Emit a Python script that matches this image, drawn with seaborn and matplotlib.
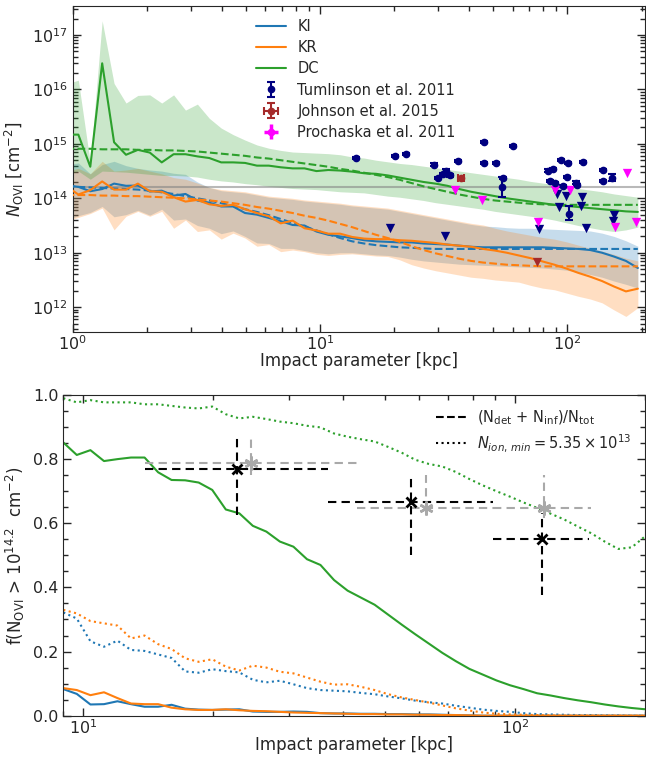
import numpy as np
import matplotlib
matplotlib.use("Agg")
import matplotlib.pyplot as plt
import seaborn as sns
from matplotlib.lines import Line2D
from matplotlib.ticker import MultipleLocator

sns.set_style("ticks", {"xtick.direction": "in", "ytick.direction": "in"})
plt.rcParams["font.family"] = ["DejaVu Sans"]
plt.rcParams["mathtext.fontset"] = "dejavusans"

# ---------------- column-density profiles (log10 N_OVI) ----------------
b_top = [0.944, 1.054, 1.178, 1.316, 1.470, 1.643, 1.835, 2.050, 2.291, 2.559,
         2.858, 3.193, 3.567, 3.985, 4.452, 4.974, 5.556, 6.207, 6.935, 7.748,
         8.655, 9.670, 10.80, 12.07, 13.48, 15.06, 16.83, 18.80, 21.00, 23.46,
         26.21, 29.28, 32.72, 36.55, 40.83, 45.61, 50.96, 56.93, 63.60, 71.05,
         79.37, 88.67, 99.08, 110.7, 123.7, 138.1, 154.3, 172.4, 192.7]

ki_med = [14.24, 14.21, 14.13, 14.17, 14.27, 14.23, 14.235, 14.125, 14.14, 14.05,
          14.08, 13.96, 13.92, 13.85, 13.85, 13.73, 13.70, 13.64, 13.58, 13.51,
          13.50, 13.39, 13.33, 13.30, 13.27, 13.23, 13.21, 13.20, 13.19, 13.19,
          13.17, 13.16, 13.15, 13.13, 13.11, 13.10, 13.10, 13.10, 13.10, 13.10,
          13.10, 13.09, 13.08, 13.07, 13.05, 13.00, 12.93, 12.85, 12.72]
ki_lo = [13.60, 13.68, 13.74, 13.85, 13.66, 13.70, 13.78, 13.69, 13.80, 13.60,
         13.62, 13.50, 13.45, 13.35, 13.40, 13.30, 13.18, 13.17, 13.08, 13.08,
         13.04, 13.00, 12.98, 13.00, 13.00, 12.98, 12.96, 12.95, 12.92, 12.88,
         12.85, 12.83, 12.81, 12.79, 12.78, 12.77, 12.76, 12.75, 12.74, 12.73,
         12.72, 12.70, 12.68, 12.64, 12.60, 12.55, 12.48, 12.42, 12.35]
ki_hi = [14.62, 14.65, 14.45, 14.62, 14.68, 14.60, 14.55, 14.52, 14.50, 14.46,
         14.44, 14.30, 14.20, 14.14, 14.12, 14.10, 14.06, 14.02, 14.00, 13.98,
         13.95, 13.93, 13.91, 13.89, 13.86, 13.84, 13.82, 13.80, 13.76, 13.72,
         13.68, 13.64, 13.60, 13.56, 13.52, 13.49, 13.48, 13.46, 13.45, 13.45,
         13.44, 13.43, 13.42, 13.41, 13.40, 13.36, 13.30, 13.22, 13.12]
ki_model = [14.22, 14.21, 14.20, 14.19, 14.18, 14.17, 14.16, 14.14, 14.11, 14.08,
            14.04, 14.00, 13.96, 13.91, 13.86, 13.80, 13.75, 13.69, 13.62, 13.55,
            13.48, 13.41, 13.34, 13.27, 13.21, 13.17, 13.14, 13.12, 13.10, 13.09,
            13.08, 13.07, 13.07, 13.07, 13.07, 13.07, 13.07, 13.07, 13.07, 13.07,
            13.07, 13.07, 13.07, 13.07, 13.07, 13.07, 13.07, 13.07, 13.07]

kr_med = [14.22, 14.07, 14.15, 14.31, 14.16, 14.16, 14.27, 14.13, 14.12, 14.02,
          13.94, 13.97, 13.89, 13.86, 13.88, 13.80, 13.73, 13.67, 13.54, 13.59,
          13.45, 13.41, 13.35, 13.35, 13.29, 13.26, 13.25, 13.25, 13.23, 13.22,
          13.20, 13.18, 13.15, 13.13, 13.11, 13.07, 13.04, 13.00, 12.95, 12.90,
          12.84, 12.78, 12.71, 12.63, 12.56, 12.48, 12.38, 12.29, 12.34]
kr_lo = [13.58, 13.65, 13.72, 13.82, 13.42, 13.67, 13.76, 13.67, 13.76, 13.45,
         13.60, 13.39, 13.42, 13.25, 13.36, 13.27, 13.12, 13.15, 13.02, 13.05,
         13.02, 12.97, 12.95, 12.97, 12.98, 12.96, 12.94, 12.93, 12.87, 12.78,
         12.72, 12.67, 12.63, 12.59, 12.55, 12.53, 12.50, 12.48, 12.46, 12.40,
         12.35, 12.32, 12.26, 12.20, 12.15, 12.08, 11.95, 11.83, 11.99]
kr_hi = [14.50, 14.55, 14.45, 14.68, 14.50, 14.52, 14.55, 14.50, 14.45, 14.38,
         14.35, 14.28, 14.20, 14.16, 14.14, 14.12, 14.08, 14.04, 14.02, 14.00,
         13.97, 13.95, 13.93, 13.91, 13.88, 13.86, 13.84, 13.82, 13.78, 13.74,
         13.70, 13.66, 13.62, 13.58, 13.54, 13.51, 13.45, 13.40, 13.36, 13.32,
         13.28, 13.25, 13.20, 13.14, 13.08, 13.03, 12.97, 12.90, 12.85]
kr_model = [14.06, 14.06, 14.06, 14.05, 14.05, 14.04, 14.04, 14.03, 14.02, 14.01,
            14.00, 13.98, 13.96, 13.94, 13.91, 13.88, 13.84, 13.81, 13.77, 13.73,
            13.68, 13.64, 13.59, 13.53, 13.47, 13.40, 13.33, 13.27, 13.20, 13.12,
            13.05, 12.99, 12.94, 12.89, 12.85, 12.82, 12.80, 12.78, 12.77, 12.76,
            12.75, 12.75, 12.75, 12.75, 12.75, 12.75, 12.75, 12.75, 12.75]

dc_med = [15.17, 15.17, 14.58, 16.48, 15.03, 14.80, 14.89, 14.84, 14.66, 14.81,
          14.81, 14.77, 14.74, 14.66, 14.66, 14.65, 14.60, 14.60, 14.57, 14.55,
          14.55, 14.50, 14.52, 14.51, 14.49, 14.46, 14.45, 14.42, 14.38, 14.34,
          14.30, 14.27, 14.23, 14.17, 14.12, 14.08, 14.04, 14.00, 13.97, 13.94,
          13.91, 13.88, 13.86, 13.84, 13.82, 13.80, 13.78, 13.76, 13.75]
dc_lo = [14.45, 14.50, 14.35, 14.50, 14.49, 14.48, 14.46, 14.44, 14.42, 14.42,
         14.41, 14.39, 14.35, 14.32, 14.30, 14.27, 14.25, 14.22, 14.20, 14.18,
         14.17, 14.16, 14.14, 14.12, 14.11, 14.10, 14.07, 14.04, 14.02, 13.99,
         13.96, 13.92, 13.89, 13.86, 13.83, 13.80, 13.76, 13.73, 13.70, 13.67,
         13.64, 13.60, 13.55, 13.50, 13.46, 13.42, 13.39, 13.42, 13.47]
dc_hi = [16.10, 16.17, 14.65, 17.26, 16.11, 15.75, 15.89, 15.90, 15.75, 15.90,
         15.62, 15.73, 15.47, 15.29, 15.17, 15.07, 14.98, 14.92, 14.88, 14.85,
         14.84, 14.83, 14.82, 14.80, 14.76, 14.74, 14.70, 14.67, 14.64, 14.62,
         14.59, 14.56, 14.53, 14.50, 14.47, 14.44, 14.41, 14.38, 14.35, 14.31,
         14.28, 14.25, 14.22, 14.18, 14.15, 14.12, 14.08, 14.05, 14.02]
dc_model = [14.91, 14.91, 14.91, 14.90, 14.90, 14.90, 14.89, 14.89, 14.88, 14.88,
            14.87, 14.86, 14.84, 14.82, 14.80, 14.78, 14.75, 14.73, 14.70, 14.67,
            14.64, 14.61, 14.58, 14.54, 14.51, 14.47, 14.43, 14.39, 14.34, 14.28,
            14.22, 14.17, 14.12, 14.07, 14.03, 13.99, 13.96, 13.94, 13.92, 13.90,
            13.89, 13.88, 13.88, 13.88, 13.88, 13.88, 13.88, 13.88, 13.88]

log_threshold = 14.2

# ---------------- observations ----------------
tum_b = [14.0, 20.1, 22.2, 29.0, 30.1, 31.5, 32.3, 33.6, 36.2, 46.2,
         46.2, 51.3, 54.8, 54.5, 60.1, 83.8, 85.1, 87.8, 89.2, 94.0,
         96.3, 100.0, 100.9, 101.3, 108.4, 109.2, 115.4, 139.9, 139.9, 151.2]
tum_logN = [14.74, 14.77, 14.82, 14.62, 14.37, 14.45, 14.51, 14.42, 14.68, 15.04,
            14.65, 14.65, 14.37, 14.20, 14.96, 14.51, 14.32, 14.54, 14.28, 14.71,
            14.22, 14.39, 14.65, 13.71, 14.29, 14.25, 14.66, 14.52, 14.32, 14.37]
tum_err_lo = [0.02, 0.02, 0.02, 0.02, 0.02, 0.02, 0.02, 0.02, 0.02, 0.02,
              0.02, 0.02, 0.02, 0.18, 0.02, 0.02, 0.02, 0.02, 0.02, 0.02,
              0.02, 0.02, 0.02, 0.10, 0.02, 0.02, 0.02, 0.02, 0.02, 0.05]
tum_err_hi = [0.02, 0.02, 0.02, 0.02, 0.02, 0.02, 0.02, 0.02, 0.02, 0.02,
              0.02, 0.02, 0.02, 0.19, 0.02, 0.02, 0.02, 0.02, 0.02, 0.02,
              0.02, 0.02, 0.02, 0.14, 0.02, 0.02, 0.02, 0.02, 0.02, 0.07]
tum_lim_b = [19.1, 32.0, 77.1, 90.6, 92.9, 98.5, 113.6, 114.3, 118.7, 153.5, 154.9]
tum_lim_logN = [13.46, 13.30, 13.44, 14.08, 13.84, 14.05, 13.85, 14.03, 13.46, 13.59, 13.70]

joh_b = [37.2]
joh_logN = [14.37]
joh_lim_b = [75.2]
joh_lim_logN = [12.83]

pro_lim_b = [35.2, 45.1, 75.9, 89.1, 102.5, 156.0, 173.9, 189.6]
pro_lim_logN = [14.16, 13.97, 13.56, 14.16, 14.16, 13.47, 14.46, 13.56]

# ---------------- covering fractions ----------------
b_bot = [9.00, 9.67, 10.40, 11.18, 12.01, 12.91, 13.88, 14.92, 16.03, 17.23,
         18.52, 19.91, 21.40, 23.00, 24.72, 26.57, 28.55, 30.69, 32.99, 35.45,
         38.11, 40.96, 44.02, 47.32, 50.86, 54.66, 58.75, 63.15, 67.87, 72.95,
         78.41, 84.28, 90.58, 97.36, 104.6, 112.5, 120.9, 129.9, 139.7, 150.1,
         161.3, 173.4, 186.4, 200.3]

dc_f142 = [0.852, 0.813, 0.828, 0.794, 0.800, 0.805, 0.805, 0.759, 0.735, 0.734,
           0.727, 0.704, 0.643, 0.631, 0.592, 0.574, 0.543, 0.527, 0.488, 0.470,
           0.423, 0.390, 0.368, 0.346, 0.315, 0.284, 0.254, 0.225, 0.196, 0.170,
           0.146, 0.128, 0.110, 0.095, 0.083, 0.070, 0.063, 0.055, 0.048, 0.042,
           0.035, 0.029, 0.024, 0.020]
dc_fmin = [0.990, 0.977, 0.984, 0.977, 0.977, 0.977, 0.971, 0.971, 0.966, 0.961,
           0.958, 0.964, 0.940, 0.927, 0.932, 0.925, 0.917, 0.912, 0.904, 0.899,
           0.880, 0.870, 0.862, 0.855, 0.838, 0.820, 0.798, 0.785, 0.777, 0.760,
           0.738, 0.718, 0.700, 0.683, 0.665, 0.648, 0.630, 0.612, 0.590, 0.569,
           0.543, 0.520, 0.525, 0.560]
ki_f142 = [0.083, 0.068, 0.035, 0.036, 0.045, 0.036, 0.028, 0.028, 0.034, 0.022,
           0.019, 0.018, 0.019, 0.020, 0.013, 0.012, 0.012, 0.013, 0.012, 0.008,
           0.007, 0.007, 0.006, 0.006, 0.005, 0.005, 0.004, 0.004, 0.003, 0.002,
           0.001, 0.0, 0.0, 0.0, 0.0, 0.0, 0.0, 0.0, 0.0, 0.0,
           0.0, 0.0, 0.0, 0.0]
ki_fmin = [0.322, 0.303, 0.232, 0.215, 0.234, 0.205, 0.202, 0.191, 0.180, 0.138,
           0.134, 0.145, 0.139, 0.135, 0.112, 0.104, 0.109, 0.098, 0.086, 0.080,
           0.078, 0.076, 0.071, 0.067, 0.060, 0.054, 0.047, 0.042, 0.038, 0.031,
           0.025, 0.019, 0.015, 0.012, 0.008, 0.005, 0.004, 0.003, 0.002, 0.002,
           0.001, 0.001, 0.0, 0.0]
kr_f142 = [0.086, 0.080, 0.064, 0.073, 0.055, 0.038, 0.036, 0.036, 0.025, 0.020,
           0.018, 0.018, 0.020, 0.017, 0.015, 0.014, 0.012, 0.010, 0.009, 0.008,
           0.007, 0.006, 0.005, 0.005, 0.004, 0.004, 0.003, 0.003, 0.002, 0.002,
           0.001, 0.0, 0.0, 0.0, 0.0, 0.0, 0.0, 0.0, 0.0, 0.0,
           0.0, 0.0, 0.0, 0.0]
kr_fmin = [0.330, 0.319, 0.295, 0.288, 0.281, 0.241, 0.250, 0.223, 0.208, 0.179,
           0.168, 0.176, 0.153, 0.141, 0.156, 0.150, 0.137, 0.132, 0.119, 0.106,
           0.097, 0.098, 0.090, 0.080, 0.067, 0.057, 0.049, 0.041, 0.032, 0.023,
           0.016, 0.010, 0.006, 0.004, 0.003, 0.002, 0.001, 0.0, 0.0, 0.0,
           0.0, 0.0, 0.0, 0.0]

# observed fractions: detections + inferred (black) and N_ion,min cut (grey)
obs_b = [22.7, 57.4, 115.7]
obs_b_lo = [13.9, 37.0, 89.1]
obs_b_hi = [37.0, 89.1, 148.6]
obs_f = [0.769, 0.667, 0.551]
obs_f_lo = [0.143, 0.166, 0.175]
obs_f_hi = [0.106, 0.084, 0.080]

min_b = [24.5, 62.3, 116.7]
min_b_lo = [13.9, 43.0, 89.1]
min_b_hi = [43.0, 89.1, 150.3]
min_f = [0.787, 0.647, 0.647]
min_f_lo = [0.036, 0.005, 0.030]
min_f_hi = [0.088, 0.104, 0.104]

# ---------------- figure ----------------
fig = plt.figure(figsize=(6.46, 7.58), dpi=100)
ax1 = fig.add_axes([0.1125, 0.562, 0.886, 0.430])
ax2 = fig.add_axes([0.098, 0.0558, 0.9005, 0.4231])

runs = [("KI", "C0", ki_med, ki_lo, ki_hi, ki_model),
        ("KR", "C1", kr_med, kr_lo, kr_hi, kr_model),
        ("DC", "C2", dc_med, dc_lo, dc_hi, dc_model)]

ax1.set_xscale("log")
ax1.set_yscale("log")
bt = np.array(b_top)
for name, col, med, lo, hi, mod in runs:
    ax1.fill_between(bt, 10 ** np.array(lo), 10 ** np.array(hi),
                     color=col, alpha=0.25, lw=0, zorder=1)
ax1.axhline(10 ** log_threshold, color="gray", alpha=0.55, lw=1.5, zorder=2)
for name, col, med, lo, hi, mod in runs:
    sns.lineplot(x=bt, y=10 ** np.array(med), ax=ax1, color=col, lw=1.5, zorder=3)
    sns.lineplot(x=bt, y=10 ** np.array(mod), ax=ax1, color=col, lw=1.5,
                 ls="--", zorder=3)


def dex_err(logv, lo, hi):
    logv, lo, hi = map(np.asarray, (logv, lo, hi))
    return [10 ** logv - 10 ** (logv - lo), 10 ** (logv + hi) - 10 ** logv]


tum_eb = ax1.errorbar(tum_b, 10 ** np.array(tum_logN),
                      yerr=dex_err(tum_logN, tum_err_lo, tum_err_hi),
                      fmt="o", color="navy", ms=4.5, capsize=3, elinewidth=1.5,
                      capthick=1.5, zorder=5)
sns.scatterplot(x=tum_lim_b, y=10 ** np.array(tum_lim_logN), ax=ax1, marker="v",
                color="navy", s=45, linewidth=0, zorder=5)
joh_eb = ax1.errorbar(joh_b, 10 ** np.array(joh_logN),
                      xerr=[[1.0], [1.0]], yerr=dex_err(joh_logN, [0.02], [0.02]),
                      fmt="o", color="brown", ms=4.5, capsize=3, elinewidth=1.5,
                      capthick=1.5, zorder=5)
sns.scatterplot(x=joh_lim_b, y=10 ** np.array(joh_lim_logN), ax=ax1, marker="v",
                color="brown", s=45, linewidth=0, zorder=5)
pro_eb = ax1.errorbar([], [], xerr=[], yerr=[], fmt="o", color="magenta",
                      ms=4.5, elinewidth=2.5, capsize=0)
sns.scatterplot(x=pro_lim_b, y=10 ** np.array(pro_lim_logN), ax=ax1, marker="v",
                color="magenta", s=45, linewidth=0, zorder=5)

ax1.set_xlim(1, 206)
ax1.set_ylim(3.5e11, 3.4e17)
ax1.set_xlabel("Impact parameter [kpc]", fontsize=12, labelpad=-1)
ax1.set_ylabel(r"$N_{\rm OVI}$ [cm$^{-2}$]", fontsize=12)

handles = [Line2D([], [], color="C0", lw=1.5), Line2D([], [], color="C1", lw=1.5),
           Line2D([], [], color="C2", lw=1.5), tum_eb, joh_eb, pro_eb]
labels = ["KI", "KR", "DC", "Tumlinson et al. 2011", "Johnson et al. 2015",
          "Prochaska et al. 2011"]
ax1.legend(handles, labels, loc="upper left", bbox_to_anchor=(0.298, 1.0),
           frameon=False, fontsize=10.5, labelspacing=0.42)

# bottom panel: covering fractions
ax2.set_xscale("log")
bb = np.array(b_bot)
fr = [("C0", ki_f142, ki_fmin), ("C1", kr_f142, kr_fmin), ("C2", dc_f142, dc_fmin)]
for col, f1, f2 in fr:
    sns.lineplot(x=bb, y=f1, ax=ax2, color=col, lw=1.5)
    sns.lineplot(x=bb, y=f2, ax=ax2, color=col, lw=1.5, ls=":")


def frac_errbar(b, blo, bhi, f, flo, fhi, marker, col, ms, mew):
    b = np.asarray(b)
    eb = ax2.errorbar(b, f, xerr=[b - np.asarray(blo), np.asarray(bhi) - b],
                      yerr=[flo, fhi], marker=marker, linestyle="none",
                      color=col, ms=ms, mew=mew,
                      elinewidth=1.5, capsize=0, zorder=5)
    for lc in eb[2]:
        lc.set_linestyle((0, (4, 2.5)))
    return eb


frac_errbar(min_b, min_b_lo, min_b_hi, min_f, min_f_lo, min_f_hi,
            (6, 2, 0), "darkgray", 10, 1.8)
frac_errbar(obs_b, obs_b_lo, obs_b_hi, obs_f, obs_f_lo, obs_f_hi,
            "x", "black", 7, 2)

ax2.set_xlim(9, 200)
ax2.set_ylim(0, 1)
ax2.yaxis.set_major_locator(MultipleLocator(0.2))
ax2.yaxis.set_minor_locator(MultipleLocator(0.05))
ax2.set_xlabel("Impact parameter [kpc]", fontsize=12, labelpad=-1)
ax2.set_ylabel(r"f(N$_{\rm OVI}$ > 10$^{14.2}$  cm$^{-2}$)", fontsize=12)

leg2 = [Line2D([], [], color="black", lw=1.5, ls="--"),
        Line2D([], [], color="black", lw=1.5, ls=":")]
ax2.legend(leg2, [r"(N$_{\rm det}$ + N$_{\rm inf}$)/N$_{\rm tot}$",
                  r"$N_{ion,\, min} = 5.35\times10^{13}$"],
           loc="upper right", frameon=False, fontsize=10.5, labelspacing=0.35)

for ax in (ax1, ax2):
    ax.tick_params(which="both", direction="in", top=True, right=True,
                   labelsize=11.5)
    ax.tick_params(which="major", length=6, width=1)
    ax.tick_params(which="minor", length=3.5, width=1)
    ax.tick_params(axis="x", which="both", pad=2)

fig.savefig("out.png", dpi=100)
